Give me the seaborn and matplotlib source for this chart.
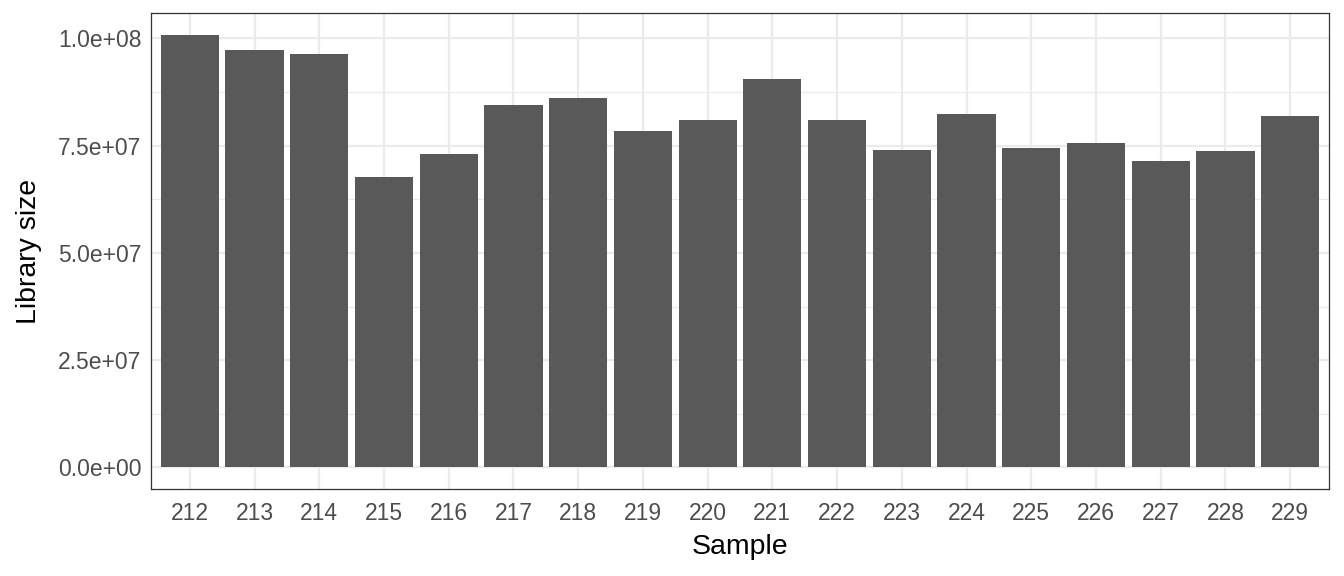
import numpy as np
import pandas as pd
import matplotlib
matplotlib.use("Agg")
import matplotlib.pyplot as plt
import seaborn as sns
from matplotlib.ticker import FuncFormatter, MultipleLocator

# library sizes per sample
samples = ["212", "213", "214", "215", "216", "217", "218", "219", "220",
           "221", "222", "223", "224", "225", "226", "227", "228", "229"]
lib_size = [100.9e6, 97.4e6, 96.3e6, 67.7e6, 73.1e6, 84.6e6, 86.2e6, 78.5e6, 81.1e6,
            90.6e6, 81.1e6, 74.0e6, 82.5e6, 74.5e6, 75.7e6, 71.5e6, 73.8e6, 82.0e6]

df = pd.DataFrame({"Sample": samples, "Library size": lib_size})

sns.set_style("white")
plt.rcParams["font.family"] = ["Liberation Sans", "DejaVu Sans"]

fig = plt.figure(figsize=(13.44, 5.76), dpi=100)
ax = fig.add_axes([151 / 1344, 87 / 576, (1329 - 151) / 1344, (489 - 13) / 576])

sns.barplot(data=df, x="Sample", y="Library size", color="#595959",
            saturation=1, width=0.9, linewidth=0, ax=ax, zorder=3)

ymax = max(lib_size)
ax.set_ylim(-0.05 * ymax, 1.05 * ymax)
ax.set_xlim(-0.6, len(samples) - 0.4)

ax.yaxis.set_major_locator(MultipleLocator(2.5e7))
ax.yaxis.set_minor_locator(MultipleLocator(1.25e7))
ax.yaxis.set_major_formatter(FuncFormatter(lambda v, p: f"{v:.1e}"))

ax.grid(True, which="major", color="#EBEBEB", lw=1.6, zorder=0)
ax.grid(True, which="minor", axis="y", color="#EBEBEB", lw=0.8, zorder=0)
ax.set_axisbelow(True)

for s in ax.spines.values():
    s.set_visible(True)
    s.set_color("#333333")
    s.set_linewidth(0.9)

ax.tick_params(axis="both", which="major", length=4, width=1, color="#333333",
               labelsize=16.5, labelcolor="#4D4D4D", pad=3)
ax.tick_params(axis="x", which="major", pad=5)
ax.tick_params(axis="y", which="minor", length=0)

ax.set_xlabel("Sample", fontsize=20.5, color="black", labelpad=7)
ax.set_ylabel("Library size", fontsize=20.5, color="black", labelpad=11)

fig.savefig("out.png", dpi=100)
